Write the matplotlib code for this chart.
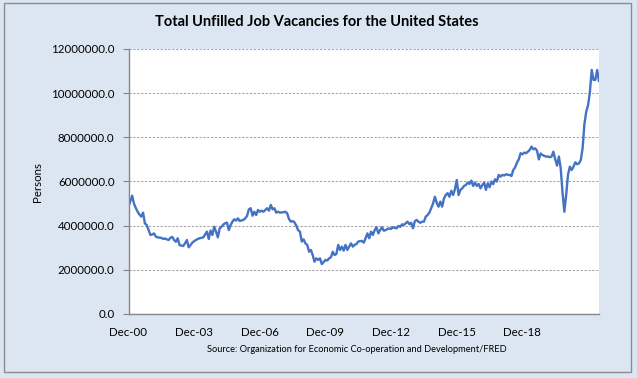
import matplotlib
matplotlib.use("Agg")
import matplotlib.pyplot as plt
from matplotlib.patches import Rectangle
from matplotlib.ticker import FuncFormatter, MultipleLocator

plt.rcParams['font.family'] = ['Lato', 'DejaVu Sans']

# Monthly values (millions of persons), Dec-2000 onward
vals_2001_2004 = [4.86, 5.10, 5.36, 5.00, 4.80, 4.63, 4.50, 4.41, 4.59, 4.10, 4.03, 3.80,
                  3.58, 3.60, 3.65, 3.50, 3.47, 3.46, 3.45, 3.40, 3.42, 3.38, 3.35, 3.45,
                  3.49, 3.35, 3.27, 3.43, 3.12, 3.10, 3.08, 3.20, 3.35, 3.02, 3.12, 3.23,
                  3.30, 3.35, 3.40, 3.43, 3.45, 3.47, 3.60, 3.73, 3.40, 3.78, 3.58, 3.95]
vals_2005_2008 = [3.73, 3.47, 3.88, 3.95, 4.05, 4.11, 4.14, 3.80, 4.03, 4.18, 4.29, 4.23,
                  4.33, 4.21, 4.24, 4.26, 4.33, 4.44, 4.74, 4.79, 4.45, 4.63, 4.48, 4.71,
                  4.63, 4.68, 4.63, 4.71, 4.79, 4.68, 4.94, 4.74, 4.79, 4.59, 4.63, 4.59,
                  4.60, 4.61, 4.63, 4.56, 4.30, 4.18, 4.21, 4.15, 4.00, 3.80, 3.73, 3.28]
vals_2009_2012 = [3.38, 3.20, 3.13, 2.82, 2.90, 2.67, 2.37, 2.52, 2.45, 2.52, 2.26, 2.35,
                  2.45, 2.42, 2.52, 2.57, 2.82, 2.67, 2.72, 3.13, 2.90, 3.05, 2.87, 3.13,
                  2.90, 3.05, 3.20, 3.05, 3.13, 3.17, 3.28, 3.30, 3.31, 3.23, 3.43, 3.65,
                  3.43, 3.73, 3.58, 3.80, 3.93, 3.65, 3.80, 3.93, 3.77, 3.80, 3.85, 3.88]
vals_2013_2016 = [3.85, 3.93, 3.90, 3.88, 3.99, 3.95, 4.06, 4.03, 4.11, 4.18, 4.07, 4.13,
                  3.88, 4.20, 4.26, 4.18, 4.13, 4.18, 4.18, 4.41, 4.48, 4.59, 4.79, 5.00,
                  5.31, 5.04, 4.86, 5.09, 4.86, 5.24, 5.39, 5.47, 5.31, 5.58, 5.39, 5.65,
                  6.07, 5.39, 5.62, 5.69, 5.80, 5.84, 5.95, 5.89, 6.04, 5.80, 5.95, 5.80]
vals_2017_2020 = [5.89, 5.69, 5.84, 5.95, 5.62, 5.92, 5.74, 6.00, 5.88, 6.10, 6.00, 6.30,
                  6.22, 6.30, 6.27, 6.33, 6.30, 6.30, 6.25, 6.52, 6.64, 6.85, 7.00, 7.28,
                  7.23, 7.31, 7.28, 7.35, 7.43, 7.58, 7.46, 7.50, 7.40, 7.00, 7.27, 7.20,
                  7.16, 7.13, 7.13, 7.10, 7.13, 7.35, 7.00, 6.72, 7.13, 6.60, 5.50, 4.63]
vals_2021_2022 = [5.39, 6.30, 6.67, 6.52, 6.67, 6.87, 6.78, 6.82, 6.97, 7.50, 8.60, 9.16,
                  9.45, 10.05, 11.05, 10.60, 10.60, 11.05, 10.55]

values_millions = (vals_2001_2004 + vals_2005_2008 + vals_2009_2012 +
                   vals_2013_2016 + vals_2017_2020 + vals_2021_2022)
values = [v * 1e6 for v in values_millions]
months = list(range(len(values)))

tick_positions = [0, 36, 72, 108, 144, 180, 216]
tick_labels = ['Dec-00', 'Dec-03', 'Dec-06', 'Dec-09', 'Dec-12', 'Dec-15', 'Dec-18']

W, H = 637, 378
fig = plt.figure(figsize=(W / 100, H / 100), dpi=100)
bg = '#DCE6F2'
fig.patch.set_facecolor(bg)
fig.patches.append(Rectangle((3.5 / W, 6.5 / H), 627.5 / W, 368.5 / H, transform=fig.transFigure,
                             fill=False, edgecolor='#8C8C8C', linewidth=1.0))

ax = fig.add_axes([128.5 / W, 1 - 314 / H, (599 - 128.5) / W, 265 / H])
ax.set_facecolor('white')
ax.plot(months, values, color='#4472C4', linewidth=1.7, solid_joinstyle='round')

ax.set_xlim(0, len(values) - 1)
ax.set_ylim(0, 12e6)
ax.yaxis.set_major_locator(MultipleLocator(2e6))
ax.yaxis.set_major_formatter(FuncFormatter(lambda v, p: f"{v:.1f}"))
ax.set_xticks(tick_positions)
ax.set_xticklabels(tick_labels)

ax.grid(axis='y', color='#A6A6A6', linestyle=(0, (2, 1.5)), linewidth=0.8)
ax.set_axisbelow(True)
for s in ['top', 'right']:
    ax.spines[s].set_visible(False)
for s in ['left', 'bottom']:
    ax.spines[s].set_color('#868686')
    ax.spines[s].set_linewidth(1.0)

ax.tick_params(axis='y', length=4, width=0.8, color='#868686', pad=6, labelsize=8.3, labelcolor='#000000')
ax.tick_params(axis='x', length=0, pad=9.5, labelsize=8.3, labelcolor='#000000')

ax.set_ylabel('Persons', fontsize=8.3, labelpad=6)

fig.text(317 / W, 1 - 22 / H, 'Total Unfilled Job Vacancies for the United States',
         ha='center', va='center', fontsize=10.5, fontweight='bold')
fig.text(357 / W, 1 - 350 / H, 'Source: Organization for Economic Co-operation and Development/FRED',
         ha='center', va='center', fontsize=6.7)

fig.savefig('out.png', dpi=100, facecolor=bg)
